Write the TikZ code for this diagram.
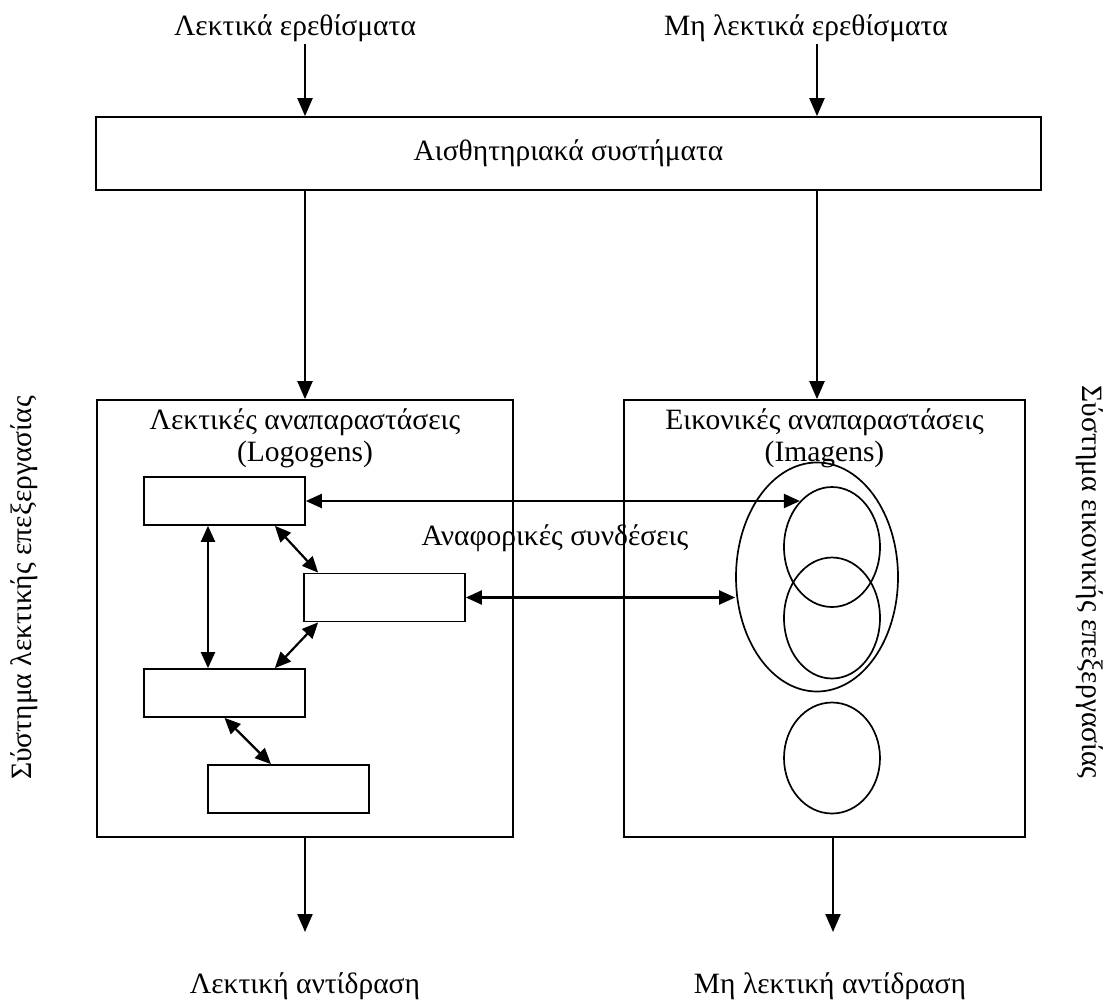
\documentclass[tikz,border=0pt]{standalone}
\usepackage{fontspec}
\setmainfont{Liberation Serif}
\usetikzlibrary{positioning,arrows.meta,shapes.geometric,calc}
\tikzset{
txt/.style={
inner sep=2pt,
align=center
},
sysbox/.style={
draw,
line width=1.7pt,
inner sep=0pt
},
wordbox/.style={
draw,
line width=1.7pt,
minimum width=161pt,
minimum height=48pt,
inner sep=0pt
},
imgring/.style={
draw,
ellipse,
line width=1.7pt,
inner sep=0pt
},
arrow/.style={
-{Triangle[length=18pt,width=15pt]},
line width=2.2pt
},
dblarrow/.style={
{Triangle[length=16pt,width=14pt]}-{Triangle[length=16pt,width=14pt]},
line width=2.2pt
}
}
\begin{document}
\begin{tikzpicture}[x=1pt,y=-1pt,font=\fontsize{29.5}{32}\selectfont]
\useasboundingbox (0,0) rectangle (1112,1005);
% columns of the main arrows
\coordinate (colA) at (305,0);
\coordinate (colB) at (817,0);
\coordinate (colC) at (833,0);

\node[txt](verbin) at (295,28){Λεκτικά ερεθίσματα};
\node[txt](nonverbin) at (806,28){Μη λεκτικά ερεθίσματα};
\node[sysbox,minimum width=945pt,minimum height=73pt](sens) at (568.5,153.5){Αισθητηριακά συστήματα};

\node[sysbox,minimum width=416pt,minimum height=437pt](lexbox) at (305,618.5){};
\node[sysbox,minimum width=401pt,minimum height=437pt](imgbox) at (824.5,618.5){};
\node[txt,below=7pt of lexbox.north](lextitle){Λεκτικές αναπαραστάσεις\\(Logogens)};
\node[txt,below=7pt of imgbox.north](imgtitle){Εικονικές αναπαραστάσεις\\(Imagens)};

% logogens
\node[wordbox](w1) at (224.5,501){};
\node[wordbox](w2) at (384.5,597.5){};
\node[wordbox](w3) at (224.5,693){};
\node[wordbox](w4) at (288.5,789){};

% imagens
\node[imgring,minimum width=162pt,minimum height=229pt](big) at (817,577){};
\node[imgring,minimum width=96pt,minimum height=120pt](c1) at (832,547){};
\node[imgring,minimum width=96pt,minimum height=121pt](c2) at (832,618){};
\node[imgring,minimum width=96pt,minimum height=111pt](c3) at (832,758){};

\node[txt](refs) at (555,538){Αναφορικές συνδέσεις};

\node[txt,rotate=90](lexsys) at (24,588){Σύστημα λεκτικής επεξεργασίας};
\node[txt,rotate=-90](imgsys) at (1090,582){Σύστημα εικονικής επεξεργασίας};

\coordinate (outL) at (305,932);
\coordinate (outR) at (833,932);
\node[txt](verbout) at (305,986){Λεκτική αντίδραση};
\node[txt](nonverbout) at (830,986){Μη λεκτική αντίδραση};

\draw[arrow](verbin.south -| colA)--(sens.north -| colA);
\draw[arrow](nonverbin.south -| colB)--(sens.north -| colB);
\draw[arrow](sens.south -| colA)--(lexbox.north -| colA);
\draw[arrow](sens.south -| colB)--(imgbox.north -| colB);
\draw[arrow](lexbox.south -| colA)--(outL);
\draw[arrow](imgbox.south -| colC)--(outR);

\draw[dblarrow]([xshift=-16.5pt]w1.south)--([xshift=-16.5pt]w3.north);
\draw[dblarrow]([xshift=-31pt]w1.south east)--([xshift=15pt]w2.north west);
\draw[dblarrow]([xshift=15pt]w2.south west)--([xshift=-31pt]w3.north east);
\draw[dblarrow](w3.south)--([xshift=-17.5pt]w4.north);
\draw[dblarrow](w1.east)--(w1.east -| c1.125);
\draw[dblarrow](w2.east)--(w2.east -| big.west);
\end{tikzpicture}
\end{document}
